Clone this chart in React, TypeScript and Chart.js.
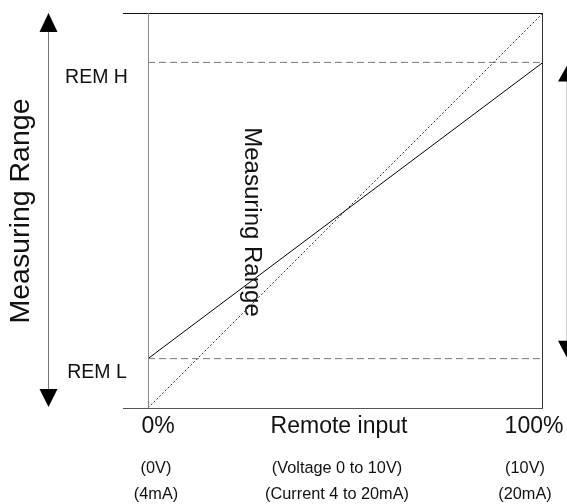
import React, { useEffect, useRef } from "react";
import Chart from "chart.js/auto";

// ---- data ----
const xRange = [0, 100]; // remote input, %
const REM_L = 12.5;
const REM_H = 87.5;
const outputLine = [REM_L, REM_H]; // measuring range mapped to remote input
const identityLine = [0, 100];
const remLevels = [REM_L, REM_H];
const remLabels = ["REM L", "REM H"];
const axisRow1 = ["0%", "Remote input", "100%"];
const axisRow2 = ["(0V)", "(Voltage 0 to 10V)", "(10V)"];
const axisRow3 = ["(4mA)", "(Current 4 to 20mA)", "(20mA)"];
const rangeTitle = "Measuring Range";

const FONT = '"Liberation Sans", Arial, sans-serif';

function arrowHead(ctx: CanvasRenderingContext2D, x: number, tipY: number, baseY: number, half: number) {
  ctx.beginPath();
  ctx.moveTo(x, tipY);
  ctx.lineTo(x - half, baseY);
  ctx.lineTo(x + half, baseY);
  ctx.closePath();
  ctx.fill();
}

const decorPlugin = {
  id: "decor",
  afterDraw(chart: any) {
    const ctx: CanvasRenderingContext2D = chart.ctx;
    const { left, right, top, bottom } = chart.chartArea;
    const ys = chart.scales.y;
    ctx.save();
    // frame
    ctx.lineWidth = 1;
    ctx.strokeStyle = "#111";
    ctx.beginPath();
    ctx.moveTo(123, top + 0.5);
    ctx.lineTo(right, top + 0.5);
    ctx.stroke();
    ctx.strokeStyle = "#333";
    ctx.beginPath();
    ctx.moveTo(right - 0.5, top);
    ctx.lineTo(right - 0.5, bottom);
    ctx.stroke();
    ctx.strokeStyle = "#555";
    ctx.beginPath();
    ctx.moveTo(123, bottom + 0.5);
    ctx.lineTo(right, bottom + 0.5);
    ctx.stroke();
    ctx.strokeStyle = "#888";
    ctx.beginPath();
    ctx.moveTo(left + 0.5, top);
    ctx.lineTo(left + 0.5, bottom);
    ctx.stroke();

    // left double arrow
    ctx.strokeStyle = "#777";
    ctx.beginPath();
    ctx.moveTo(48.5, 30);
    ctx.lineTo(48.5, 392);
    ctx.stroke();
    ctx.fillStyle = "#000";
    arrowHead(ctx, 48.5, 13, 32, 9);
    arrowHead(ctx, 48.5, 407, 389, 9);

    // right double arrow (partly off canvas)
    const yH = ys.getPixelForValue(REM_H);
    const yL = ys.getPixelForValue(REM_L);
    ctx.strokeStyle = "#ccc";
    ctx.beginPath();
    ctx.moveTo(566.5, yH + 16);
    ctx.lineTo(566.5, yL - 16);
    ctx.stroke();
    arrowHead(ctx, 567, yH + 3, yH + 19, 9);
    arrowHead(ctx, 567, yL - 1, yL - 18, 9);

    // texts
    ctx.fillStyle = "#111";
    ctx.textAlign = "center";
    ctx.textBaseline = "middle";
    ctx.font = `19.5px ${FONT}`;
    ctx.fillText(remLabels[1], 96.5, yH + 15);
    ctx.fillText(remLabels[0], 97, yL + 14);

    ctx.font = `23px ${FONT}`;
    const rowX = [158, 339, 534];
    axisRow1.forEach((t, i) => ctx.fillText(t, rowX[i], 427));
    ctx.font = `16.3px ${FONT}`;
    const rowX2 = [156, 337, 525];
    axisRow2.forEach((t, i) => ctx.fillText(t, rowX2[i], 469));
    axisRow3.forEach((t, i) => ctx.fillText(t, rowX2[i], 495));

    // left rotated title
    ctx.save();
    ctx.translate(21, 211);
    ctx.rotate(-Math.PI / 2);
    ctx.font = `28.5px ${FONT}`;
    ctx.fillText(rangeTitle, 0, 0);
    ctx.restore();

    // in-plot rotated title
    ctx.save();
    ctx.translate(252, 222);
    ctx.rotate(Math.PI / 2);
    ctx.font = `24px ${FONT}`;
    ctx.fillText(rangeTitle, 0, 0);
    ctx.restore();

    ctx.restore();
  },
};

export default function App() {
  const ref = useRef<HTMLCanvasElement>(null);
  useEffect(() => {
    if (!ref.current) return;
    const pts = (ys: number[]) => xRange.map((x, i) => ({ x, y: ys[i] }));
    const chart = new Chart(ref.current, {
      type: "line",
      data: {
        datasets: [
          {
            data: pts(outputLine),
            borderColor: "#000",
            borderWidth: 1,
            pointRadius: 0,
          },
          {
            data: pts(identityLine),
            borderColor: "#333",
            borderWidth: 1,
            borderDash: [2, 2],
            pointRadius: 0,
          },
          {
            data: pts([remLevels[1], remLevels[1]]),
            borderColor: "#777",
            borderWidth: 1,
            borderDash: [7, 4],
            pointRadius: 0,
          },
          {
            data: pts([remLevels[0], remLevels[0]]),
            borderColor: "#777",
            borderWidth: 1,
            borderDash: [7, 4],
            pointRadius: 0,
          },
        ],
      },
      options: {
        responsive: false,
        animation: false,
        layout: { padding: { left: 148, right: 24, top: 13, bottom: 96 } },
        plugins: { legend: { display: false }, tooltip: { enabled: false } },
        scales: {
          x: { type: "linear", min: 0, max: 100, display: false },
          y: { type: "linear", min: 0, max: 100, display: false },
        },
      },
      plugins: [decorPlugin],
    });
    return () => chart.destroy();
  }, []);
  return (
    <div style={{ position: "fixed", left: 0, top: 0, width: 567, height: 504, background: "#fff" }}>
      <canvas ref={ref} width={567} height={504} style={{ width: 567, height: 504, display: "block" }} />
    </div>
  );
}
